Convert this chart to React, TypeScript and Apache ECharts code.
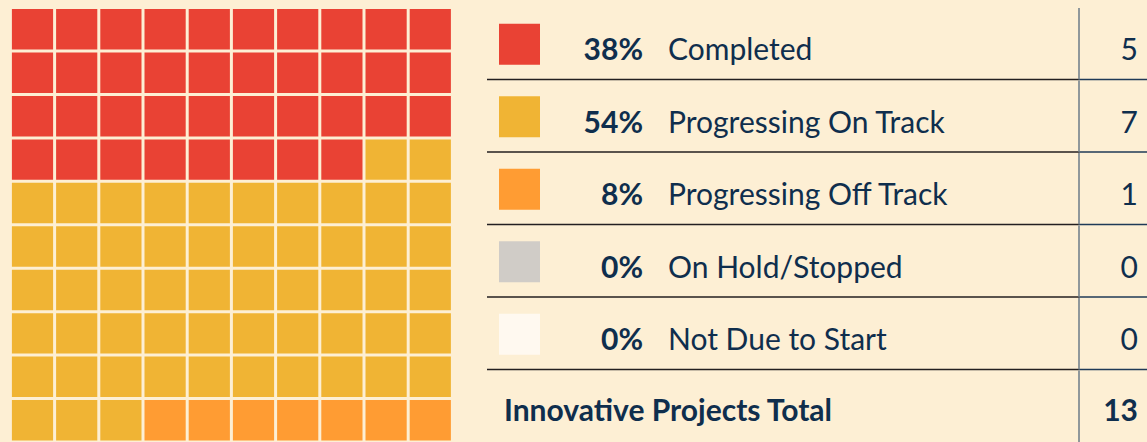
import React, { useEffect, useRef } from "react";
import * as echarts from "echarts";

const categories = [
  "Completed",
  "Progressing On Track",
  "Progressing Off Track",
  "On Hold/Stopped",
  "Not Due to Start",
];
const percents = [38, 54, 8, 0, 0];
const counts = [5, 7, 1, 0, 0];
const colors = ["#E94234", "#F0B434", "#FF9C33", "#D0CCC7", "#FFF9F0"];
// number of waffle cells drawn for each status (as in the picture)
const waffleCells = [38, 55, 7, 0, 0];
const totalLabel = "Innovative Projects Total";
const totalCount = 13;

const GRID_COLS = 10;
const BG = "#FDEFD4";
const NAVY = "#0F2E4D";
const FONT = "Lato, 'Open Sans', sans-serif";
const FS = 30;

export default function App() {
  const ref = useRef<HTMLDivElement>(null);

  useEffect(() => {
    document.body.style.margin = "0";
    document.body.style.background = BG;
    if (!ref.current) return;
    const chart = echarts.init(ref.current, null, { renderer: "svg" });

    const waffleData: number[][] = [];
    let k = 0;
    waffleCells.forEach((n, s) => {
      for (let j = 0; j < n; j++) {
        waffleData.push([k % GRID_COLS, Math.floor(k / GRID_COLS), s]);
        k++;
      }
    });

    const tableRows = categories.map((c, i) => [i]);
    tableRows.push([categories.length]);

    const option: any = {
      animation: false,
      backgroundColor: BG,
      grid: [
        { left: 10.4, top: 7.6, width: 442, height: 438 },
        { left: 487, top: 7, width: 660, height: 438 },
      ],
      xAxis: [
        { type: "value", gridIndex: 0, min: 0, max: 10, show: false },
        { type: "value", gridIndex: 1, min: 0, max: 660, show: false },
      ],
      yAxis: [
        { type: "value", gridIndex: 0, min: 0, max: 10, inverse: true, show: false },
        { type: "value", gridIndex: 1, min: 0, max: 6, inverse: true, show: false },
      ],
      series: [
        {
          type: "custom",
          xAxisIndex: 0,
          yAxisIndex: 0,
          clip: false,
          data: waffleData,
          renderItem: (params: any, api: any) => {
            const col = api.value(0);
            const row = api.value(1);
            const s = api.value(2);
            const p0 = api.coord([col, row]);
            const p1 = api.coord([col + 1, row + 1]);
            const g = 1.5;
            return {
              type: "rect",
              shape: {
                x: p0[0] + g,
                y: p0[1] + g,
                width: p1[0] - p0[0] - 2 * g,
                height: p1[1] - p0[1] - 2 * g,
              },
              style: { fill: colors[s] },
            };
          },
        },
        {
          type: "custom",
          xAxisIndex: 1,
          yAxisIndex: 1,
          clip: false,
          data: tableRows,
          renderItem: (params: any, api: any) => {
            const i = api.value(0);
            const top = api.coord([0, i])[1];
            const bottom = api.coord([0, i + 1])[1];
            const cy = (top + bottom) / 2;
            const left = api.coord([0, i])[0];
            const vx = left + 592;
            const children: any[] = [];
            const isTotal = i >= categories.length;
            if (!isTotal) {
              children.push({
                type: "rect",
                shape: { x: left + 12, y: cy - 19.5, width: 41, height: 41 },
                style: { fill: colors[i] },
              });
              children.push({
                type: "text",
                style: {
                  text: percents[i] + "%",
                  x: left + 156,
                  y: cy + 5,
                  align: "right",
                  verticalAlign: "middle",
                  fill: NAVY,
                  font: `bold ${FS}px ${FONT}`,
                },
              });
              children.push({
                type: "text",
                style: {
                  text: categories[i],
                  x: left + 181,
                  y: cy + 5,
                  align: "left",
                  verticalAlign: "middle",
                  fill: NAVY,
                  font: `${FS}px ${FONT}`,
                },
              });
              children.push({
                type: "text",
                style: {
                  text: String(counts[i]),
                  x: left + 651,
                  y: cy + 5,
                  align: "right",
                  verticalAlign: "middle",
                  fill: NAVY,
                  font: `${FS}px ${FONT}`,
                },
              });
              children.push({
                type: "line",
                shape: { x1: left, y1: bottom, x2: vx, y2: bottom },
                style: { stroke: "#231F20", lineWidth: 1.5 },
              });
              children.push({
                type: "line",
                shape: { x1: vx, y1: bottom, x2: left + 660, y2: bottom },
                style: { stroke: "#1F3A57", lineWidth: 1.5 },
              });
            } else {
              children.push({
                type: "text",
                style: {
                  text: totalLabel,
                  x: left + 17,
                  y: cy + 3,
                  align: "left",
                  verticalAlign: "middle",
                  fill: NAVY,
                  font: `bold ${FS}px ${FONT}`,
                },
              });
              children.push({
                type: "text",
                style: {
                  text: String(totalCount),
                  x: left + 651,
                  y: cy + 3,
                  align: "right",
                  verticalAlign: "middle",
                  fill: NAVY,
                  font: `bold ${FS}px ${FONT}`,
                },
              });
            }
            children.push({
              type: "line",
              shape: { x1: vx, y1: top + 1, x2: vx, y2: bottom },
              style: { stroke: "#6B7B88", lineWidth: 1.5 },
            });
            return { type: "group", children };
          },
        },
      ],
    };
    chart.setOption(option);
    return () => chart.dispose();
  }, []);

  return (
    <div
      ref={ref}
      style={{ position: "absolute", left: 0, top: 0, width: 1147, height: 442 }}
    />
  );
}
